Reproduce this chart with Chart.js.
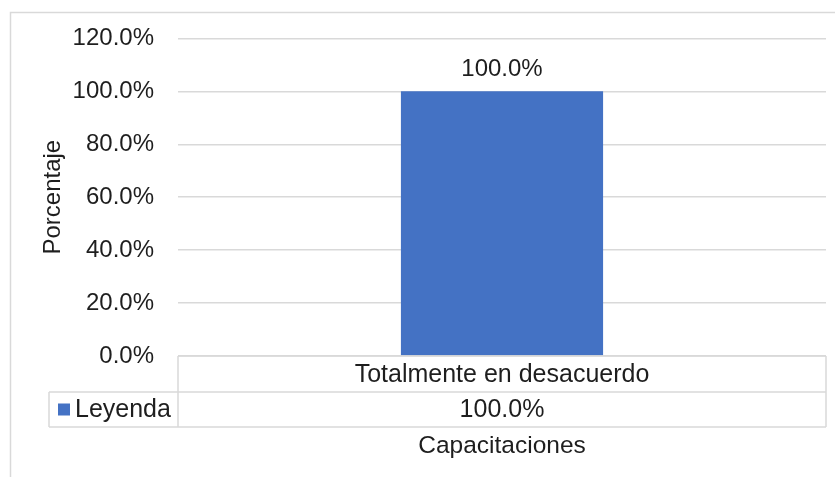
<!DOCTYPE html>
<html>
<head>
<meta charset="utf-8">
<script src="https://cdn.jsdelivr.net/npm/chart.js@4.4.1/dist/chart.umd.min.js"></script>
<style>
  html, body { margin: 0; padding: 0; background: #fff; }
</style>
</head>
<body>
<canvas id="chart" width="835" height="477"></canvas>
<script>
// data
const categories = ['Totalmente en desacuerdo'];
const seriesName = 'Leyenda';
const values = [1.0];
const yTicks = [0, 0.2, 0.4, 0.6, 0.8, 1.0, 1.2];
const xTitle = 'Capacitaciones';
const yTitle = 'Porcentaje';

const BAR = '#4472C4';
const GRID = '#d9d9d9';
const TEXT = '#1e1e1e';
const FAMILY = '"Liberation Sans", Arial, sans-serif';
const SIZE = 24;
const pct = v => (v * 100).toFixed(1) + '%';

// data table under the plot + value label over the bar + outer frame
const tablePlugin = {
  id: 'dataTable',
  afterDraw(chart) {
    const { ctx, chartArea: a, scales: { x } } = chart;
    const r1 = a.bottom, r2 = r1 + 36, r3 = r2 + 35;
    const legendLeft = 49;
    ctx.save();
    ctx.strokeStyle = GRID; ctx.lineWidth = 1.5;
    ctx.beginPath();
    ctx.moveTo(a.left, r1); ctx.lineTo(a.right, r1);
    ctx.moveTo(legendLeft, r2); ctx.lineTo(a.right, r2);
    ctx.moveTo(legendLeft, r3); ctx.lineTo(a.right, r3);
    ctx.moveTo(a.left, r1); ctx.lineTo(a.left, r3);
    ctx.moveTo(a.right, r1); ctx.lineTo(a.right, r3);
    ctx.moveTo(legendLeft, r2); ctx.lineTo(legendLeft, r3);
    ctx.stroke();
    ctx.strokeRect(10.5, 12.5, 1000, 1000);

    ctx.font = '25px ' + FAMILY;
    ctx.fillStyle = TEXT;
    ctx.textBaseline = 'middle';
    ctx.textAlign = 'center';
    categories.forEach((c, i) => {
      const cx = x.getPixelForValue(i);
      ctx.fillText(c, cx, (r1 + r2) / 2 + 1);
      ctx.fillText(pct(values[i]), cx, (r2 + r3) / 2 + 1);
    });

    // legend key in the table
    ctx.fillStyle = BAR;
    ctx.fillRect(58, (r2 + r3) / 2 - 6, 12, 12);
    ctx.fillStyle = TEXT;
    ctx.textAlign = 'left';
    ctx.fillText(seriesName, 75, (r2 + r3) / 2 + 1);

    ctx.font = '24.5px ' + FAMILY;
    ctx.textAlign = 'center';
    ctx.fillText(xTitle, (a.left + a.right) / 2, r3 + 19);

    // value labels above bars
    ctx.font = SIZE + 'px ' + FAMILY;
    chart.getDatasetMeta(0).data.forEach((bar, i) => {
      ctx.fillText(pct(values[i]), bar.x, bar.y - 22);
    });
    ctx.restore();
  }
};

new Chart(document.getElementById('chart'), {
  type: 'bar',
  data: {
    labels: categories,
    datasets: [{ label: seriesName, data: values, backgroundColor: BAR,
                 categoryPercentage: 1, barPercentage: 0.312 }]
  },
  options: {
    responsive: false,
    devicePixelRatio: 1,
    animation: false,
    layout: { padding: { top: 36, bottom: 121, left: 0, right: 9 } },
    plugins: { legend: { display: false }, tooltip: { enabled: false } },
    scales: {
      x: { display: false },
      y: {
        min: yTicks[0], max: yTicks[yTicks.length - 1],
        afterFit: s => { s.width = 178; },
        afterBuildTicks: s => { s.ticks = yTicks.map(v => ({ value: v })); },
        ticks: { padding: 24, color: TEXT, font: { family: FAMILY, size: SIZE },
                 callback: v => pct(v) },
        grid: { color: GRID, lineWidth: 1.5, drawTicks: false },
        border: { display: false },
        title: { display: true, text: yTitle, color: TEXT,
                 font: { family: FAMILY, size: SIZE }, padding: { top: 39, bottom: 0 } }
      }
    }
  },
  plugins: [tablePlugin]
});
</script>
</body>
</html>
